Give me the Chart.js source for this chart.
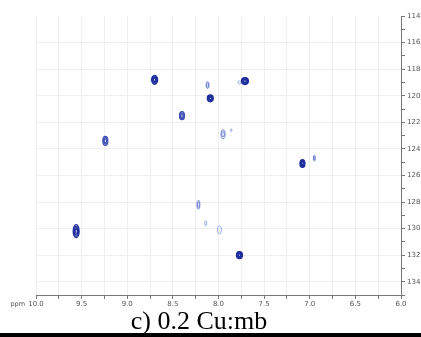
<!DOCTYPE html>
<html>
<head>
<meta charset="utf-8">
<script src="https://cdn.jsdelivr.net/npm/chart.js@4"></script>
<style>
body{margin:0;background:#fff;}
#wrap{position:relative;width:421px;height:337px;overflow:hidden;}
#title{position:absolute;left:0;top:308px;width:398px;text-align:center;font-family:"Liberation Serif",serif;font-size:26px;line-height:26px;color:#000;}
#bar{position:absolute;left:0;top:333px;width:421px;height:4px;background:#000;}
</style>
</head>
<body>
<div id="wrap">
<canvas id="hsqc" width="421" height="337"></canvas>
<div id="title">c) 0.2 Cu:mb</div>
<div id="bar"></div>
</div>
<script>
// 1H / 15N peak positions (ppm)
const peakH=[8.70,7.71,7.77,8.12,8.09,8.40,7.95,7.86,9.24,7.08,6.95,8.22,8.14,7.99,9.56,7.77];
const peakN=[118.8,118.9,119.0,119.2,120.2,121.5,122.9,122.6,123.4,125.1,124.7,128.2,129.6,130.1,130.2,132.0];
// peak widths (ppm) and number of contour levels shown
const widthH=[0.066,0.077,0.033,0.033,0.066,0.055,0.044,0.011,0.055,0.055,0.022,0.033,0.022,0.044,0.066,0.066];
const widthN=[0.68,0.53,0.23,0.53,0.53,0.60,0.68,0.23,0.68,0.60,0.45,0.68,0.38,0.60,0.98,0.53];
const peakLevels=[4,4,1,2,4,3,2,1,3,4,2,2,1,1,4,4];

const levelColors=['#8f9fe0','#6679cf','#3a4db4','#1c2c9c'];

const contourPlugin={
    id:'contours',
    afterDatasetsDraw(chart){
        const ctx=chart.ctx;
        const xs=chart.scales.x, ys=chart.scales.y;
        ctx.save();
        peakH.forEach((h,i)=>{
            const cx=xs.getPixelForValue(h);
            const cy=ys.getPixelForValue(peakN[i]);
            const rx=Math.max(0.6,Math.abs(xs.getPixelForValue(h+widthH[i]/2)-cx));
            const ry=Math.max(0.6,Math.abs(ys.getPixelForValue(peakN[i]+widthN[i]/2)-cy));
            const n=peakLevels[i];
            for(let k=0;k<n;k++){
                const f=1-k/(n+0.6);
                ctx.beginPath();
                ctx.ellipse(cx,cy,rx*f,ry*f,0,0,Math.PI*2);
                ctx.strokeStyle=levelColors[Math.min(n,4)-1];
                ctx.lineWidth=n>=3?1.2:0.9;
                ctx.stroke();
            }
        });
        // ppm unit label
        ctx.fillStyle='#555';
        ctx.font='6.5px "DejaVu Sans"';
        ctx.textAlign='right';
        ctx.textBaseline='middle';
        ctx.fillText('ppm',25,304);
        ctx.restore();
    }
};

new Chart(document.getElementById('hsqc'),{
    type:'scatter',
    data:{
        datasets:[{
            data:peakH.map((h,i)=>({x:h,y:peakN[i]})),
            pointRadius:0
        }]
    },
    options:{
        responsive:false,
        animation:false,
        layout:{padding:{left:36,top:16,right:0,bottom:28}},
        plugins:{legend:{display:false},tooltip:{enabled:false}},
        scales:{
            x:{
                type:'linear',min:6,max:10,reverse:true,
                afterFit:(s)=>{s.height=14;},
                border:{color:'#777',width:1},
                grid:{color:(c)=>c.tick&&c.tick.value===6?'transparent':'#efefef',tickLength:4,tickColor:'#777'},
                ticks:{stepSize:0.25,autoSkip:false,maxRotation:0,padding:1,color:'#555',
                    font:{family:'DejaVu Sans',size:7},
                    callback:(v)=>Math.abs(v*2-Math.round(v*2))<1e-6?v.toFixed(1):''}
            },
            y:{
                type:'linear',position:'right',min:114,max:135,reverse:true,
                afterFit:(s)=>{s.width=20;},
                border:{color:'#777',width:1},
                grid:{color:(c)=>(c.tick&&c.tick.value%2===0&&c.tick.value!==114)?'#efefef':'transparent',tickLength:4,tickColor:'#777'},
                ticks:{stepSize:1,autoSkip:false,padding:2,color:'#555',
                    font:{family:'DejaVu Sans',size:7},
                    callback:(v)=>v%2===0?String(v):''}
            }
        }
    },
    plugins:[contourPlugin]
});
</script>
</body>
</html>
